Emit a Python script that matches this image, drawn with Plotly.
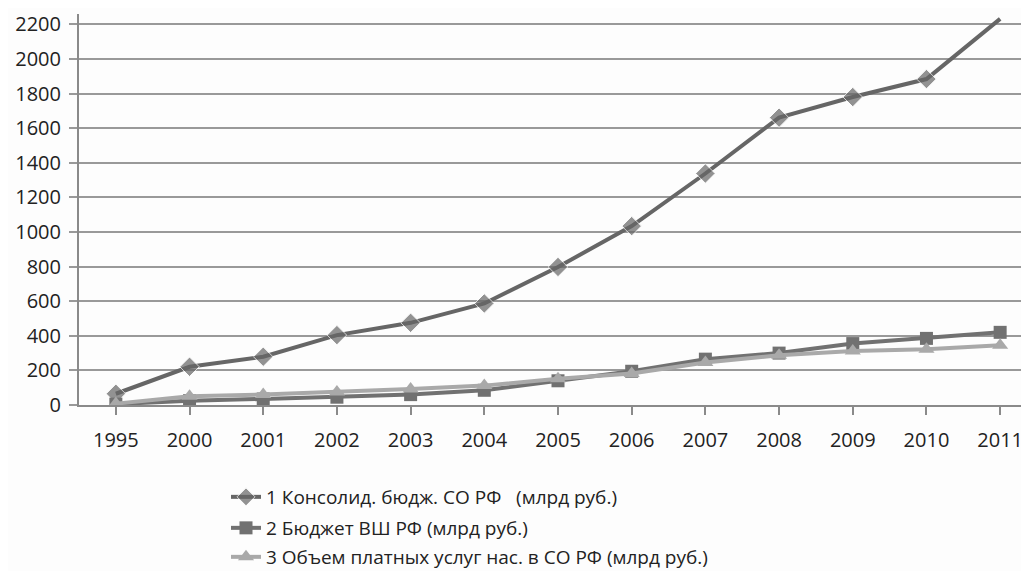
import plotly.graph_objects as go

years = ["1995", "2000", "2001", "2002", "2003", "2004", "2005", "2006",
         "2007", "2008", "2009", "2010", "2011"]
consolid = [65, 221, 279, 404, 475, 587, 798, 1034, 1338, 1661, 1780, 1884, 2232]
budget_vsh = [5, 25, 35, 45, 60, 85, 140, 195, 265, 300, 355, 385, 420]
paid_services = [8, 50, 60, 75, 92, 112, 152, 182, 245, 288, 312, 322, 345]

names = ["1 Консолид.\u00a0бюдж. СО\u00a0РФ \u00a0\u00a0(млрд руб.)",
         "2 Бюджет ВШ\u00a0РФ (млрд руб.)",
         "3 Объем платных услуг нас. в СО\u00a0РФ (млрд руб.)"]

FONT = "Open Sans"
W, H = 1029, 571
ML, MT, MB = 71, 6, 174
PW, PH = W - ML, H - MT - MB

fig = go.Figure()
n = len(years)
fig.add_trace(go.Scatter(
    x=years, y=consolid, name=names[0], mode="lines+markers", legend="legend",
    line=dict(color="#666666", width=4),
    marker=dict(symbol="diamond", size=[15] * (n - 1) + [0], color="#666666"),
))
fig.add_trace(go.Scatter(
    x=years, y=budget_vsh, name=names[1], mode="lines+markers", legend="legend2",
    line=dict(color="#717171", width=4),
    marker=dict(symbol="square", size=13, color="#717171"),
))
fig.add_trace(go.Scatter(
    x=years, y=paid_services, name=names[2], mode="lines+markers", legend="legend3",
    line=dict(color="#a9a9a9", width=4),
    marker=dict(symbol="triangle-up", size=14, color="#a9a9a9"),
))

def leg(yc):
    return dict(x=(218 - ML) / PW, y=(H - MB - yc) / PH,
                xanchor="left", yanchor="middle",
                font=dict(family=FONT, size=19, color="#222222"),
                bgcolor="rgba(0,0,0,0)")

fig.update_layout(
    width=W, height=H,
    margin=dict(l=ML, r=0, t=MT, b=MB, autoexpand=False),
    paper_bgcolor="#fdfdfd", plot_bgcolor="#fdfdfd",
    font=dict(family=FONT, size=20, color="#222222"),
    showlegend=True,
    legend=leg(489), legend2=leg(520), legend3=leg(549),
    xaxis=dict(type="category", range=[-0.5, 12.5], showgrid=False,
               showline=True, linecolor="#8a8a8a", linewidth=2,
               ticks="outside", ticklen=8, tickcolor="#8a8a8a", tickwidth=1.5,
               ticklabelstandoff=8, tickangle=0, tickfont=dict(size=20),
               fixedrange=True),
    yaxis=dict(range=[0, 2260], tickvals=list(range(0, 2201, 200)),
               showgrid=True, gridcolor="#999999", gridwidth=2,
               showline=True, linecolor="#8a8a8a", linewidth=2,
               ticks="outside", ticklen=8, tickcolor="#999999", tickwidth=2,
               ticklabelstandoff=4,
               zeroline=False, tickfont=dict(size=20), fixedrange=True),
)

fig.write_html("out.html")
